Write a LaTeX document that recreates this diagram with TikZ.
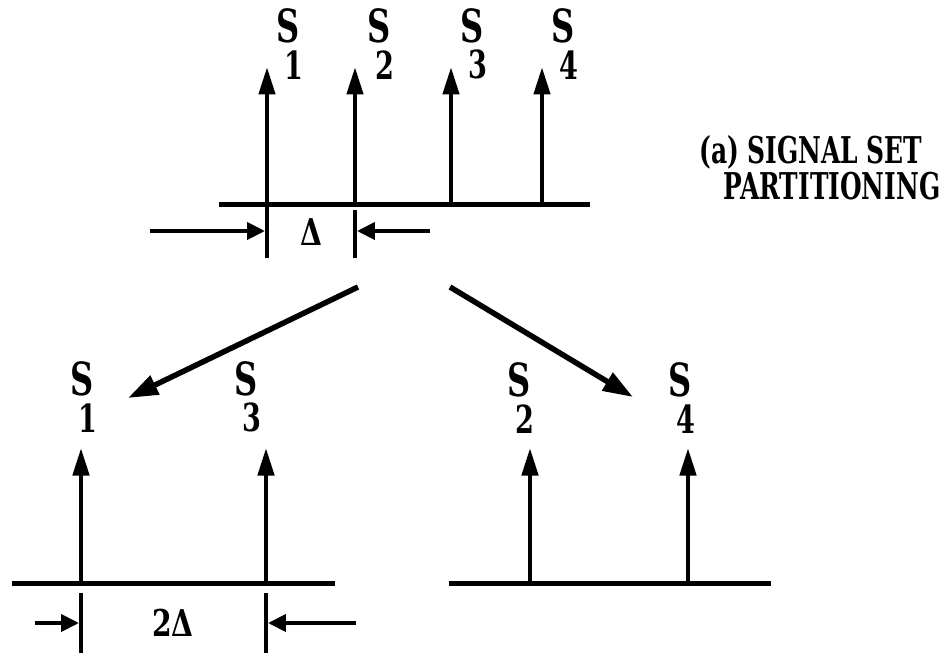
\documentclass[tikz,border=0pt]{standalone}
\usepackage{fontspec}
\newfontfamily\heavy{DejaVu Serif Condensed}
\usetikzlibrary{arrows.meta}
\newcommand{\signame}[1]{S\kern-0.42em\raisebox{-0.8em}{\fontsize{22}{26}\selectfont#1}}
\tikzset{
	axisline/.style={line width=1mm},
	spike/.style={line width=0.9mm, -{Triangle[length=0.55cm,width=0.32cm]}},
	tick/.style={line width=0.9mm},
	dimarrow/.style={line width=0.8mm, -{Triangle[length=0.36cm,width=0.34cm]}},
	split/.style={line width=1.1mm, -{Triangle[length=0.6cm,width=0.4cm]}},
	sig/.style={font=\heavy\bfseries\fontsize{26}{30}\selectfont, xscale=0.78, transform shape},
	gap/.style={font=\heavy\bfseries\fontsize{21}{24}\selectfont, xscale=0.85, transform shape},
	capt/.style={font=\heavy\bfseries\fontsize{21}{24}\selectfont, xscale=0.75, transform shape}
}

\begin{document}
\begin{tikzpicture}[x=0.02cm,y=-0.02cm]
		\useasboundingbox (0,0) rectangle (951,653);
		%%%%% FULL SET %%%%%
		\coordinate (ta) at (219,204);
		\coordinate (tb) at (590,204);
		\draw[axisline] (ta) -- (tb);
		
		\coordinate (t1) at (267,204);
		\coordinate (t2) at (355,204);
		\coordinate (t3) at (451,204);
		\coordinate (t4) at (542,204);
		\draw[spike] (t1) -- ++(0,-137);
		\draw[spike] (t2) -- ++(0,-137);
		\draw[spike] (t3) -- ++(0,-137);
		\draw[spike] (t4) -- ++(0,-137);
		
		\node[sig] (s1) at (290,44) {\signame{1}};
		\node[sig] (s2) at (381,44) {\signame{2}};
		\node[sig] (s3) at (474,44) {\signame{3}};
		\node[sig] (s4) at (565,44) {\signame{4}};
		
		% spacing of the full set
		\draw[tick] (t1) -- ++(0,54);
		\draw[tick] (t2) ++(0,6) -- ++(0,48);
		\coordinate (da) at (150,231);
		\coordinate (db) at (430,231);
		\draw[dimarrow] (da) -- (265,231);
		\draw[dimarrow] (db) -- (357,231);
		\node[gap] (delta) at (311,232) {Δ};
		
		\node[capt, anchor=east] (capa) at (927,152) {(a) SIGNAL SET};
		\node[capt, anchor=east] (capb) at (945,186) {PARTITIONING};
		
		%%%%% SPLIT %%%%%
		\coordinate (la) at (358,287);
		\coordinate (lb) at (128,398);
		\coordinate (ra) at (450,287);
		\coordinate (rb) at (633,397);
		\draw[split] (la) -- (lb);
		\draw[split] (ra) -- (rb);
		
		%%%%% SUBSET S1 S3 %%%%%
		\coordinate (ba) at (12,583);
		\coordinate (bb) at (335,583);
		\draw[axisline] (ba) -- (bb);
		\coordinate (b1) at (81,583);
		\coordinate (b3) at (266,583);
		\draw[spike] (b1) -- ++(0,-135);
		\draw[spike] (b3) -- ++(0,-135);
		\node[sig] (u1) at (84,397) {\signame{1}};
		\node[sig] (u3) at (248,397) {\signame{3}};
		
		\draw[tick] (b1) ++(0,10) -- ++(0,60);
		\draw[tick] (b3) ++(0,10) -- ++(0,60);
		\draw[dimarrow] (35,623) -- (79,623);
		\draw[dimarrow] (356,623) -- (268,623);
		\node[gap] (twodelta) at (173,623) {2Δ};
		
		%%%%% SUBSET S2 S4 %%%%%
		\coordinate (ca) at (449,583);
		\coordinate (cb) at (771,583);
		\draw[axisline] (ca) -- (cb);
		\coordinate (c2) at (530,583);
		\coordinate (c4) at (688,583);
		\draw[spike] (c2) -- ++(0,-135);
		\draw[spike] (c4) -- ++(0,-135);
		\node[sig] (u2) at (521,398) {\signame{2}};
		\node[sig] (u4) at (682,398) {\signame{4}};
	\end{tikzpicture}
\end{document}
